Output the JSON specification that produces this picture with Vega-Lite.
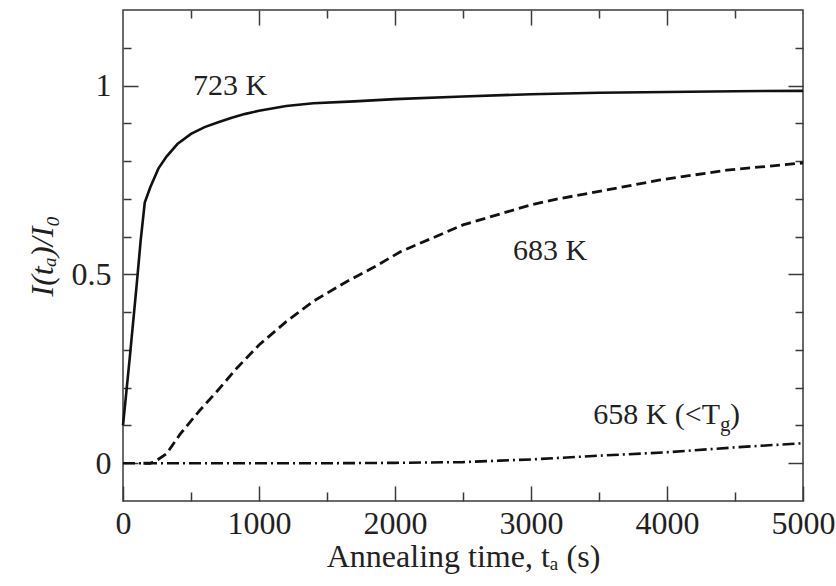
{
  "$schema": "https://vega.github.io/schema/vega-lite/v6.json",
  "autosize": {"type": "none"},
  "width": 680,
  "height": 491,
  "padding": {"left": 123, "top": 10, "right": 33, "bottom": 85},
  "config": {
    "view": {"stroke": "#3a3a3a", "strokeWidth": 1.5},
    "font": "Liberation Serif",
    "axis": {
      "grid": false,
      "domain": false,
      "labelFlush": false,
      "labelOverlap": false,
      "labelFont": "Liberation Serif",
      "labelFontSize": 32,
      "labelColor": "#231f20",
      "titleFont": "Liberation Serif",
      "titleFontSize": 32,
      "titleColor": "#231f20",
      "titleFontWeight": "normal",
      "tickColor": "#3a3a3a",
      "tickWidth": 1.5
    },
    "text": {"font": "Liberation Serif", "color": "#231f20"}
  },
  "datasets": {
    "curves": [
      {"t": 0, "v": 0.10, "series": "723 K"},
      {"t": 50, "v": 0.28, "series": "723 K"},
      {"t": 100, "v": 0.47, "series": "723 K"},
      {"t": 130, "v": 0.59, "series": "723 K"},
      {"t": 160, "v": 0.69, "series": "723 K"},
      {"t": 200, "v": 0.73, "series": "723 K"},
      {"t": 260, "v": 0.78, "series": "723 K"},
      {"t": 320, "v": 0.812, "series": "723 K"},
      {"t": 400, "v": 0.845, "series": "723 K"},
      {"t": 500, "v": 0.872, "series": "723 K"},
      {"t": 600, "v": 0.89, "series": "723 K"},
      {"t": 700, "v": 0.903, "series": "723 K"},
      {"t": 800, "v": 0.915, "series": "723 K"},
      {"t": 900, "v": 0.925, "series": "723 K"},
      {"t": 1000, "v": 0.933, "series": "723 K"},
      {"t": 1200, "v": 0.946, "series": "723 K"},
      {"t": 1400, "v": 0.953, "series": "723 K"},
      {"t": 1700, "v": 0.958, "series": "723 K"},
      {"t": 2000, "v": 0.964, "series": "723 K"},
      {"t": 2500, "v": 0.971, "series": "723 K"},
      {"t": 3000, "v": 0.977, "series": "723 K"},
      {"t": 3500, "v": 0.981, "series": "723 K"},
      {"t": 4000, "v": 0.983, "series": "723 K"},
      {"t": 4500, "v": 0.985, "series": "723 K"},
      {"t": 5000, "v": 0.986, "series": "723 K"},
      {"t": 150, "v": 0.0, "series": "683 K"},
      {"t": 200, "v": 0.0, "series": "683 K"},
      {"t": 250, "v": 0.008, "series": "683 K"},
      {"t": 320, "v": 0.025, "series": "683 K"},
      {"t": 420, "v": 0.077, "series": "683 K"},
      {"t": 560, "v": 0.138, "series": "683 K"},
      {"t": 690, "v": 0.19, "series": "683 K"},
      {"t": 840, "v": 0.253, "series": "683 K"},
      {"t": 1000, "v": 0.313, "series": "683 K"},
      {"t": 1200, "v": 0.375, "series": "683 K"},
      {"t": 1400, "v": 0.429, "series": "683 K"},
      {"t": 1640, "v": 0.48, "series": "683 K"},
      {"t": 1840, "v": 0.518, "series": "683 K"},
      {"t": 2040, "v": 0.56, "series": "683 K"},
      {"t": 2500, "v": 0.631, "series": "683 K"},
      {"t": 3000, "v": 0.684, "series": "683 K"},
      {"t": 3200, "v": 0.70, "series": "683 K"},
      {"t": 3550, "v": 0.723, "series": "683 K"},
      {"t": 3950, "v": 0.75, "series": "683 K"},
      {"t": 4440, "v": 0.776, "series": "683 K"},
      {"t": 5000, "v": 0.795, "series": "683 K"},
      {"t": 0, "v": 0.0, "series": "658 K"},
      {"t": 500, "v": 0.0, "series": "658 K"},
      {"t": 1000, "v": 0.0, "series": "658 K"},
      {"t": 1500, "v": 0.0, "series": "658 K"},
      {"t": 2000, "v": 0.001, "series": "658 K"},
      {"t": 2500, "v": 0.003, "series": "658 K"},
      {"t": 2770, "v": 0.007, "series": "658 K"},
      {"t": 3000, "v": 0.01, "series": "658 K"},
      {"t": 3500, "v": 0.02, "series": "658 K"},
      {"t": 4000, "v": 0.029, "series": "658 K"},
      {"t": 4500, "v": 0.042, "series": "658 K"},
      {"t": 5000, "v": 0.053, "series": "658 K"}
    ],
    "labels": [
      {"t": 787, "v": 0.976, "text": "723 K"},
      {"t": 3140, "v": 0.539, "text": "683 K"}
    ],
    "tgMain": [{"t": 4390, "v": 0.105, "text": "658 K (<T"}],
    "tgSub": [{"t": 4390, "v": 0.105, "text": "g"}],
    "tgEnd": [{"t": 4463, "v": 0.105, "text": ")"}]
  },
  "resolve": {"axis": {"x": "independent", "y": "independent"}},
  "layer": [
    {
      "data": {"name": "curves"},
      "transform": [{"filter": "datum.series === '723 K'"}],
      "mark": {"type": "line", "color": "#111", "strokeWidth": 2.6},
      "encoding": {
        "x": {"field": "t", "type": "quantitative", "scale": {"domain": [0, 5000], "nice": false},
          "axis": {"orient": "bottom", "values": [0, 1000, 2000, 3000, 4000, 5000], "tickSize": -15, "labelPadding": 22, "title": "Annealing time, tₐ (s)", "titlePadding": 2, "format": "d"}},
        "y": {"field": "v", "type": "quantitative", "scale": {"domain": [-0.1, 1.2], "nice": false, "zero": false},
          "axis": {"orient": "left", "values": [0, 0.5, 1], "tickSize": -15, "labelPadding": 27, "format": "~g", "title": "I(tₐ)/I₀", "titleFontStyle": "italic", "titlePadding": 12}}
      }
    },
    {
      "data": {"name": "curves"},
      "transform": [{"filter": "datum.series === '683 K'"}],
      "mark": {"type": "line", "color": "#111", "strokeWidth": 2.8, "strokeDash": [10, 5]},
      "encoding": {
        "x": {"field": "t", "type": "quantitative", "scale": {"domain": [0, 5000], "nice": false},
          "axis": {"orient": "bottom", "values": [500, 1500, 2500, 3500, 4500], "tickSize": -9, "labels": false, "title": null}},
        "y": {"field": "v", "type": "quantitative", "scale": {"domain": [-0.1, 1.2], "nice": false, "zero": false},
          "axis": {"orient": "left", "values": [0.1, 0.2, 0.3, 0.4, 0.6, 0.7, 0.8, 0.9, 1.1], "tickSize": -8, "labels": false, "title": null}}
      }
    },
    {
      "data": {"name": "curves"},
      "transform": [{"filter": "datum.series === '658 K'"}],
      "mark": {"type": "line", "color": "#111", "strokeWidth": 2.6, "strokeDash": [12, 4, 2, 4]},
      "encoding": {
        "x": {"field": "t", "type": "quantitative", "scale": {"domain": [0, 5000], "nice": false},
          "axis": {"orient": "top", "values": [1000, 2000, 3000, 4000], "tickSize": -15, "labels": false, "title": null}},
        "y": {"field": "v", "type": "quantitative", "scale": {"domain": [-0.1, 1.2], "nice": false, "zero": false},
          "axis": {"orient": "right", "values": [0, 0.5, 1], "tickSize": -15, "labels": false, "title": null}}
      }
    },
    {
      "data": {"name": "labels"},
      "mark": {"type": "text", "fontSize": 30, "align": "center", "baseline": "alphabetic"},
      "encoding": {
        "x": {"field": "t", "type": "quantitative", "scale": {"domain": [0, 5000], "nice": false},
          "axis": {"orient": "top", "values": [500, 1500, 2500, 3500, 4500], "tickSize": -8, "labels": false, "title": null}},
        "y": {"field": "v", "type": "quantitative", "scale": {"domain": [-0.1, 1.2], "nice": false, "zero": false},
          "axis": {"orient": "right", "values": [0.1, 0.2, 0.3, 0.4, 0.6, 0.7, 0.8, 0.9, 1.1], "tickSize": -8, "labels": false, "title": null}},
        "text": {"field": "text"}
      }
    },
    {
      "data": {"name": "tgMain"},
      "mark": {"type": "text", "fontSize": 30, "align": "right", "baseline": "alphabetic"},
      "encoding": {
        "x": {"field": "t", "type": "quantitative", "axis": null},
        "y": {"field": "v", "type": "quantitative", "axis": null},
        "text": {"field": "text"}
      }
    },
    {
      "data": {"name": "tgSub"},
      "mark": {"type": "text", "fontSize": 21, "align": "left", "baseline": "alphabetic", "dy": 7},
      "encoding": {
        "x": {"field": "t", "type": "quantitative", "axis": null},
        "y": {"field": "v", "type": "quantitative", "axis": null},
        "text": {"field": "text"}
      }
    },
    {
      "data": {"name": "tgEnd"},
      "mark": {"type": "text", "fontSize": 30, "align": "left", "baseline": "alphabetic"},
      "encoding": {
        "x": {"field": "t", "type": "quantitative", "axis": null},
        "y": {"field": "v", "type": "quantitative", "axis": null},
        "text": {"field": "text"}
      }
    }
  ]
}
